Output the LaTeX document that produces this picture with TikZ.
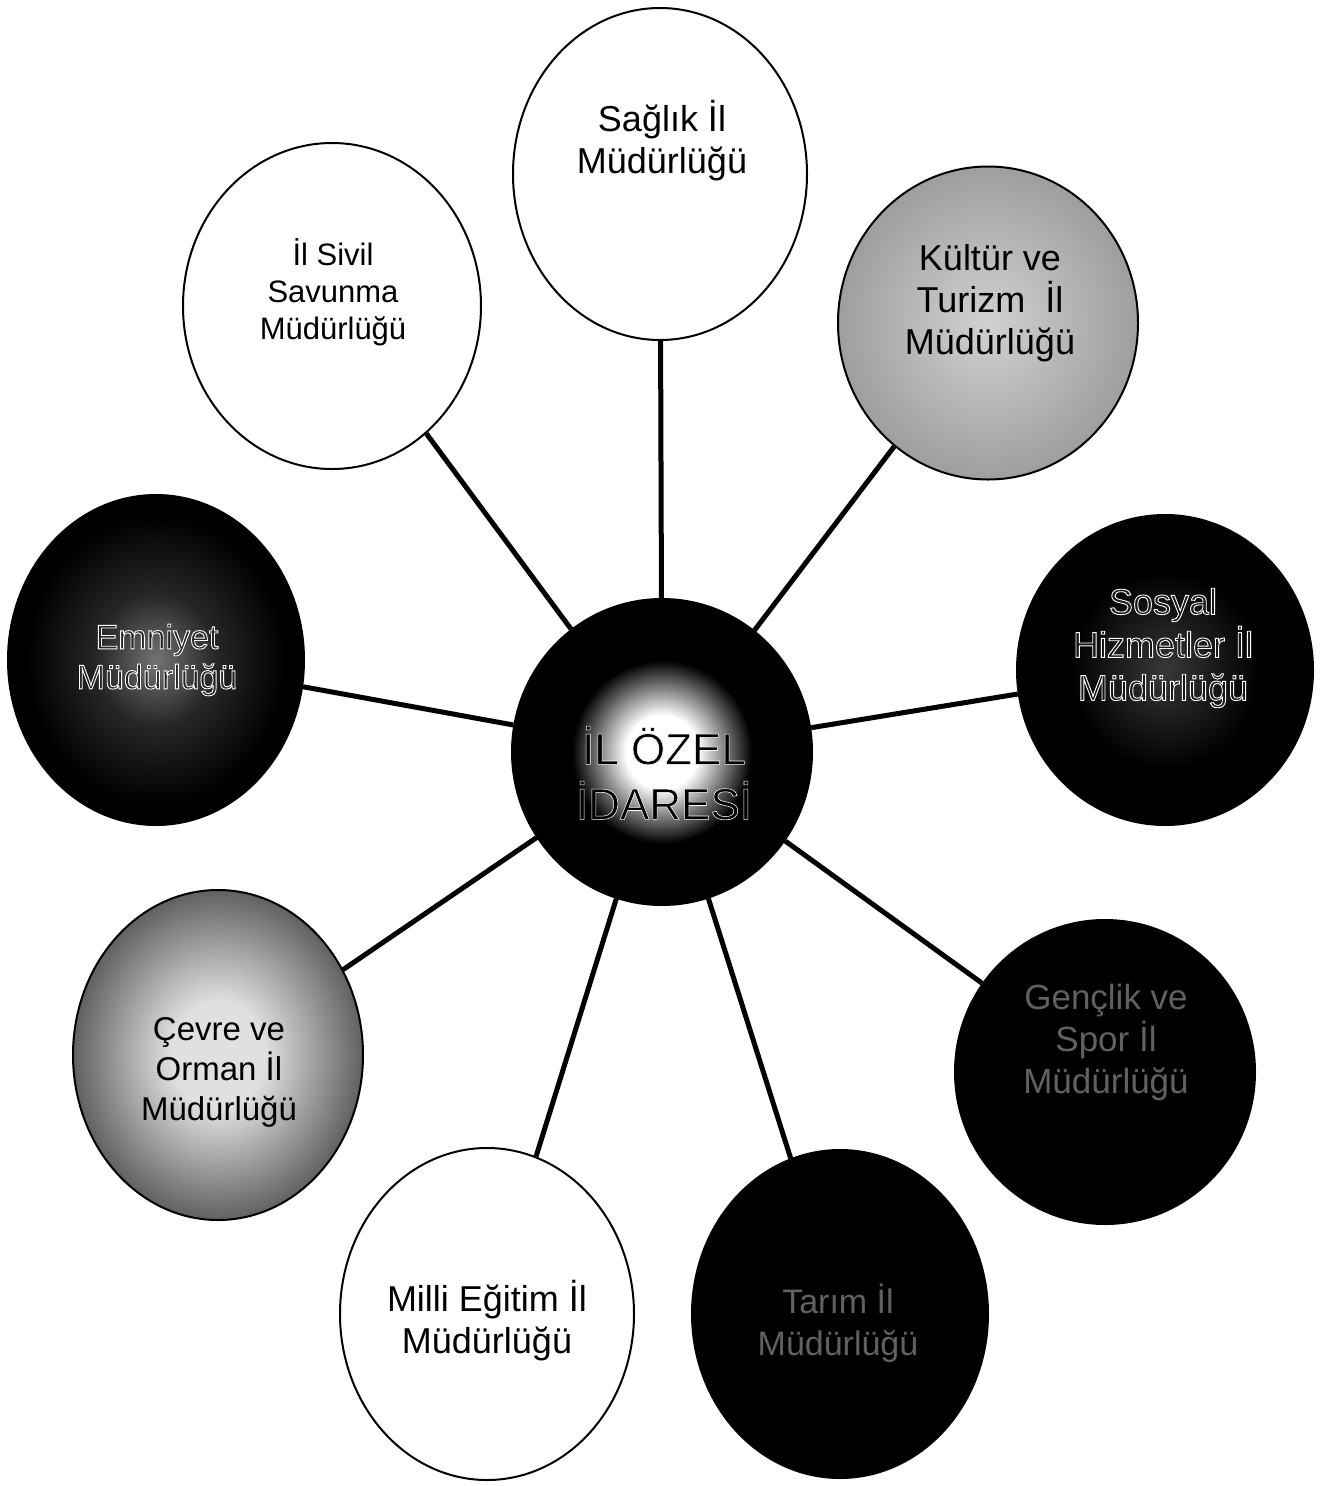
\documentclass[tikz,border=0pt]{standalone}
\usepackage{fontspec}
\setmainfont{Liberation Sans}
\usetikzlibrary{shapes.geometric}
\colorlet{kulIn}{black!18}
\colorlet{kulOut}{black!38}
\colorlet{cevIn}{black!12}
\colorlet{cevOut}{black!62}
\colorlet{emnIn}{black!55}
\colorlet{emnMid}{black!85}
\colorlet{sosIn}{black!78}
\pgfdeclareradialshading{glowc}{\pgfpoint{0bp}{0bp}}{color(0bp)=(white); color(6bp)=(white); color(15bp)=(black); color(25bp)=(black); color(50bp)=(black)}
\pgfdeclareradialshading{kulsh}{\pgfpoint{0bp}{0bp}}{color(0bp)=(kulIn); color(25bp)=(kulOut); color(50bp)=(kulOut)}
\pgfdeclareradialshading{cevsh}{\pgfpoint{0bp}{0bp}}{color(0bp)=(cevIn); color(8bp)=(cevIn); color(25bp)=(cevOut); color(50bp)=(cevOut)}
\pgfdeclareradialshading{emnsh}{\pgfpoint{0bp}{0bp}}{color(0bp)=(emnIn); color(10bp)=(emnMid); color(22bp)=(black); color(50bp)=(black)}
\pgfdeclareradialshading{sossh}{\pgfpoint{0bp}{0bp}}{color(0bp)=(sosIn); color(16bp)=(black); color(50bp)=(black)}
\tikzset{
  bub/.style={ellipse, draw=black, line width=2pt, inner sep=0pt},
  conn/.style={line width=5pt, black},
  txt/.style={align=center, font=\fontsize{35}{42}\selectfont, inner sep=0pt},
  darktxt/.style={txt, text=black!62}
}
% outlined glyphs: stroke grey level, stroke width (bp)
\newcommand\strk[2]{\special{pdf:literal direct #1 #1 #1 RG #2 w 2 Tr}}
\newcommand\unstrk{\special{pdf:literal direct 0 Tr}}
\begin{document}
\begin{tikzpicture}[x=1pt,y=-1pt]
\useasboundingbox (0,0) rectangle (1330,1486);
\fill[white] (0,0) rectangle (1330,1486);
% bubbles
\node[bub, minimum width=300, minimum height=306, shading=glowc] (c) at (662,752) {};
\node[bub, minimum width=294, minimum height=332, fill=white] (sag) at (660,174) {};
\node[bub, minimum width=298, minimum height=326, fill=white] (siv) at (332,306) {};
\node[bub, minimum width=300, minimum height=313, shading=kulsh] (kul) at (988,323) {};
\node[bub, minimum width=296, minimum height=330, shading=emnsh] (emn) at (156,660) {};
\node[bub, minimum width=296, minimum height=310, shading=sossh] (sos) at (1165,670) {};
\node[bub, minimum width=290, minimum height=330, shading=cevsh] (cev) at (218,1055) {};
\node[bub, minimum width=300, minimum height=304, fill=black] (gen) at (1105,1072) {};
\node[bub, minimum width=294, minimum height=332, fill=white] (mil) at (487,1314) {};
\node[bub, minimum width=296, minimum height=328, fill=black] (tar) at (840,1314) {};
% connectors
\foreach \n in {sag,siv,kul,emn,sos,cev,gen,mil,tar}
  \draw[conn] (c) -- (\n);
% texts
\node[txt, text=black, font=\fontsize{44}{55}\selectfont] (cT) at (664,773) {\strk{1}{0.55}İL ÖZEL\\\strk{1}{0.55}İDARESİ\unstrk};
\node[txt, font=\fontsize{36}{42}\selectfont] (sagT) at (662,141) {Sağlık İl\\Müdürlüğü};
\node[txt, font=\fontsize{31}{37}\selectfont] (sivT) at (333,292) {İl Sivil\\Savunma\\Müdürlüğü};
\node[txt, font=\fontsize{36}{42}\selectfont] (kulT) at (990,303) {Kültür ve\\Turizm~ İl\\Müdürlüğü};
\node[txt, text=black!85, font=\fontsize{34}{40}\selectfont] (emnT) at (157,660) {\strk{1}{0.9}Emniyet\\\strk{1}{0.9}Müdürlüğü\unstrk};
\node[txt, text=black!90, font=\fontsize{36}{43}\selectfont] (sosT) at (1163,648) {\strk{1}{0.9}Sosyal\\\strk{1}{0.9}Hizmetler İl\\\strk{1}{0.9}Müdürlüğü\unstrk};
\node[txt, font=\fontsize{33}{40}\selectfont] (cevT) at (219,1072) {Çevre ve\\Orman İl\\Müdürlüğü};
\node[darktxt, font=\fontsize{35}{42}\selectfont] (genT) at (1106,1042) {Gençlik ve\\Spor İl\\Müdürlüğü};
\node[txt, font=\fontsize{36}{42}\selectfont] (milT) at (487,1321) {Milli Eğitim İl\\Müdürlüğü};
\node[darktxt, font=\fontsize{34}{42}\selectfont] (tarT) at (838,1323) {Tarım İl\\Müdürlüğü};
\end{tikzpicture}
\end{document}
